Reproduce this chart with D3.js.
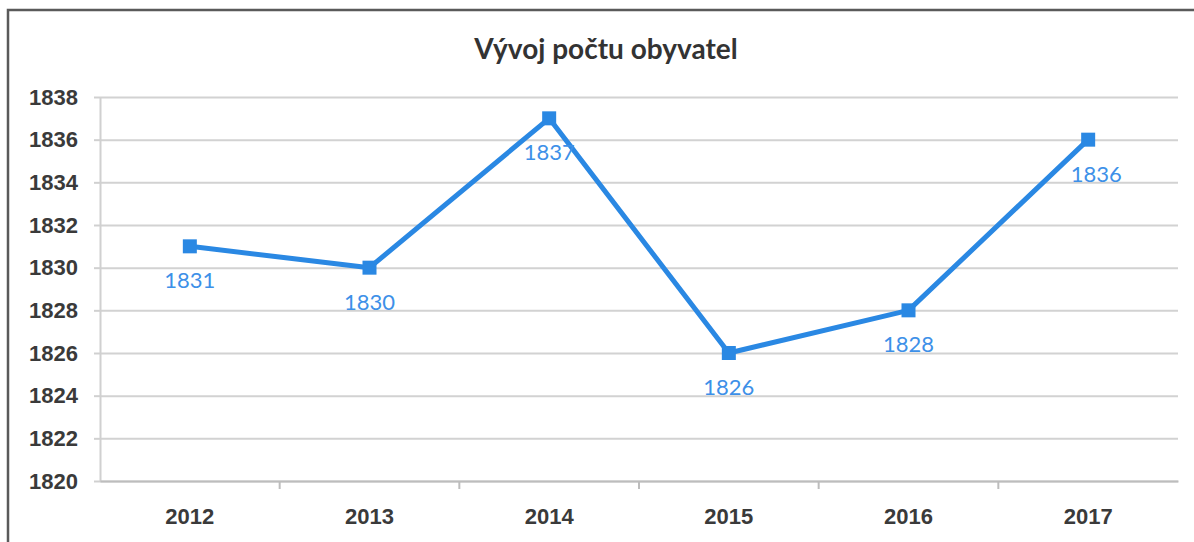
<!DOCTYPE html>
<html>
<head>
<meta charset="utf-8">
<style>
  body { margin: 0; background: #fff; }
  svg { display: block; font-family: Lato, 'Open Sans', sans-serif; }
  .grid line { stroke: #d2d2d2; stroke-width: 2px; }
  .grid .domain { display: none; }
  .y .tick text, .x .tick text { font-size: 22px; font-weight: bold; fill: #3a3a3a; }
  .y .domain { stroke: #d0d0d0; stroke-width: 2px; }
  .y .tick line { stroke: #d0d0d0; stroke-width: 2px; }
  .x .domain { stroke: #bdbdbd; stroke-width: 2px; }
  .x .tick line { stroke: #bdbdbd; stroke-width: 2px; }
</style>
</head>
<body>
<svg width="1194" height="542"></svg>
<script src="https://d3js.org/d3.v7.min.js"></script>
<script>
  let years = ["2012", "2013", "2014", "2015", "2016", "2017"];
  let population = [1831, 1830, 1837, 1826, 1828, 1836];
  let yTicks = [1820, 1822, 1824, 1826, 1828, 1830, 1832, 1834, 1836, 1838];
  let title = "Vývoj počtu obyvatel";

  let margin = { top: 97, right: 16, bottom: 61, left: 100 };
  let width = 1194, height = 542;

  let svg = d3.select("svg");

  // chart frame (scan shows only top and left edges)
  svg.append("path")
    .attr("d", `M8,${height} L8,10 L${width},10`)
    .style("fill", "none")
    .style("stroke", "#5a5a5a")
    .style("stroke-width", "2.5px");

  let x = d3.scaleBand()
    .domain(years)
    .range([margin.left, width - margin.right])
    .paddingInner(0).paddingOuter(0);

  let y = d3.scaleLinear()
    .domain([1820, 1838])
    .range([height - margin.bottom, margin.top]);

  svg.append("g")
    .attr("class", "grid")
    .attr("transform", `translate(${margin.left},0)`)
    .call(d3.axisLeft(y).tickValues(yTicks).tickSize(-(width - margin.right - margin.left)).tickFormat(""));

  svg.append("g")
    .attr("class", "y axis")
    .attr("transform", `translate(${margin.left},0)`)
    .call(d3.axisLeft(y).tickValues(yTicks).tickSize(6).tickSizeOuter(0).tickPadding(16).tickFormat(d3.format("d")));

  // category boundary ticks on the x axis
  let xAxis = svg.append("g")
    .attr("class", "x axis")
    .attr("transform", `translate(0,${y(1820)})`)
    .call(d3.axisBottom(x).tickSize(0).tickSizeOuter(0).tickPadding(27));

  xAxis.selectAll(".bound")
    .data(years.slice(1))
    .join("line")
    .attr("x1", d => x(d)).attr("x2", d => x(d))
    .attr("y1", 0).attr("y2", 8)
    .style("stroke", "#bdbdbd")
    .style("stroke-width", "2px");

  svg.append("text")
    .attr("x", 606)
    .attr("y", 59)
    .attr("text-anchor", "middle")
    .style("font-size", "28px")
    .style("font-weight", "bold")
    .style("fill", "#333")
    .text(title);

  let data = years.map((d, i) => ({ year: d, value: population[i] }));
  let cx = d => x(d.year) + x.bandwidth() / 2;

  let line = d3.line()
    .x(cx)
    .y(d => y(d.value));

  svg.append("path")
    .datum(data)
    .attr("d", line)
    .style("fill", "none")
    .style("stroke", "#2a88e3")
    .style("stroke-width", "5px")
    .style("stroke-linejoin", "round");

  svg.append("g")
    .selectAll("rect")
    .data(data)
    .join("rect")
    .attr("x", d => cx(d) - 7)
    .attr("y", d => y(d.value) - 7)
    .attr("width", 14)
    .attr("height", 14)
    .style("fill", "#2a88e3");

  svg.append("g")
    .selectAll("text")
    .data(data)
    .join("text")
    .attr("x", d => cx(d) + (d.year == "2017" ? 8 : 0))
    .attr("y", d => y(d.value) + 42)
    .attr("text-anchor", "middle")
    .style("font-size", "22px")
    .style("fill", "#3d90e8")
    .text(d => d.value);
</script>
</body>
</html>
